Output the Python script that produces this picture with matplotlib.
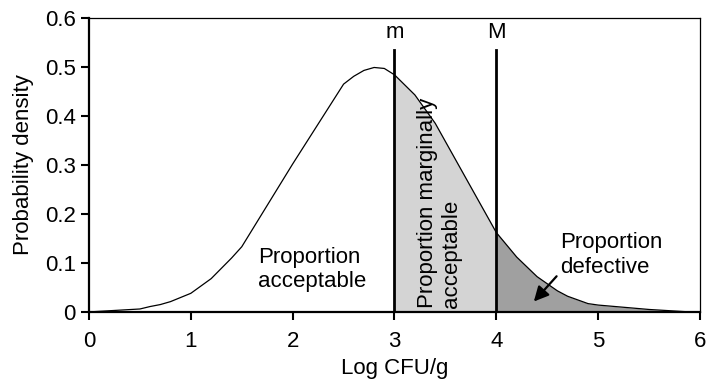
import matplotlib.pyplot as plt

plt.rcParams['font.family'] = ['Liberation Sans', 'DejaVu Sans']

# density curve
log_cfu = [0.0, 0.5, 0.6, 0.7, 0.8, 1.0, 1.2, 1.4, 1.5, 2.0, 2.5, 2.6, 2.7, 2.8,
           2.9, 3.0, 3.2, 3.4, 4.0, 4.2, 4.4, 4.6, 4.7, 4.9, 5.0, 5.5, 5.9, 6.0]
density = [0.0, 0.006, 0.011, 0.015, 0.021, 0.038, 0.068, 0.11, 0.133, 0.302,
           0.465, 0.481, 0.493, 0.499, 0.497, 0.484, 0.443, 0.385, 0.162, 0.112,
           0.072, 0.043, 0.032, 0.017, 0.014, 0.005, 0.0, 0.0]

m_limit = 3.0
M_limit = 4.0
x_ticks = [0, 1, 2, 3, 4, 5, 6]
y_ticks = [0, 0.1, 0.2, 0.3, 0.4, 0.5, 0.6]
y_tick_labels = ["0", "0.1", "0.2", "0.3", "0.4", "0.5", "0.6"]

fs = 16

fig = plt.figure(figsize=(7.08, 3.87), dpi=100)
ax = fig.add_axes([0.1257, 0.194, 0.863, 0.7595])

# shaded regions
ax.fill_between(log_cfu, density, where=[m_limit <= x <= M_limit for x in log_cfu],
                color="#d4d4d4", linewidth=0, interpolate=True)
ax.fill_between(log_cfu, density, where=[x >= M_limit for x in log_cfu],
                color="#a0a0a0", linewidth=0, interpolate=True)

ax.plot(log_cfu, density, color="black", linewidth=0.9)

# m and M limits
ax.plot([m_limit, m_limit], [0, 0.535], color="black", linewidth=2)
ax.plot([M_limit, M_limit], [0, 0.535], color="black", linewidth=2)
ax.text(m_limit, 0.57, "m", ha="center", va="center", fontsize=fs)
ax.text(M_limit, 0.57, "M", ha="center", va="center", fontsize=fs)

ax.text(2.19, 0.087, "Proportion\nacceptable", ha="center", va="center",
        multialignment="left", fontsize=fs, linespacing=1.2)
ax.text(3.44, 0.222, "Proportion marginally\nacceptable", ha="center", va="center",
        rotation=90, multialignment="left", fontsize=fs, linespacing=1.2)
ax.text(5.13, 0.116, "Proportion\ndefective", ha="center", va="center",
        multialignment="left", fontsize=fs, linespacing=1.2)
ax.annotate("", xy=(4.35, 0.017), xytext=(4.61, 0.077),
            arrowprops=dict(arrowstyle="-|>", color="black", lw=1.6, mutation_scale=22))

ax.set_xlim(0, 6)
ax.set_ylim(0, 0.6)
ax.set_xticks(x_ticks)
ax.set_yticks(y_ticks)
ax.set_yticklabels(y_tick_labels)
ax.tick_params(direction="out", length=6, width=1.5, labelsize=fs)
ax.tick_params(axis="x", pad=8)
for side in ["left", "bottom"]:
    ax.spines[side].set_linewidth(1.6)
for side in ["top", "right"]:
    ax.spines[side].set_linewidth(0.9)

ax.set_xlabel("Log CFU/g", fontsize=fs, labelpad=4)
ax.set_ylabel("Probability density", fontsize=fs, labelpad=8)

fig.savefig("out.png", dpi=100)
